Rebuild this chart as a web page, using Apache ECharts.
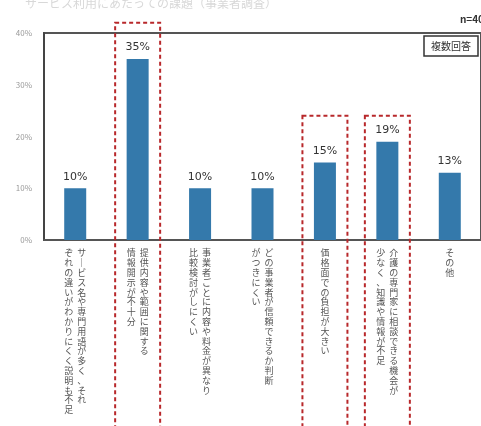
<!DOCTYPE html>
<html>
<head>
<meta charset="utf-8">
<script src="https://cdn.jsdelivr.net/npm/echarts@6/dist/echarts.min.js"></script>
<style>
  html, body { margin: 0; padding: 0; background: #fff; }
  #main { width: 481px; height: 426px; }
</style>
</head>
<body>
<div id="main"></div>
<script>
// 縦書きラベル：右の列 → 左の列
const labelRight = [
  'サービス名や専門用語が多く、それ',
  '提供内容や範囲に関する',
  '事業者ごとに内容や料金が異なり',
  'どの事業者が信頼できるか判断',
  '価格面での負担が大きい',
  '介護の専門家に相談できる機会が',
  'その他'
]
const labelLeft = [
  'ぞれの違いがわかりにくく説明も不足',
  '情報開示が不十分',
  '比較検討がしにくい',
  'がつきにくい',
  '',
  '少なく、知識や情報が不足',
  ''
]
const categories = labelRight.map((r, i) => r + labelLeft[i])
const values = [10, 35, 10, 10, 15, 19, 13]   // %
const yMin = 0, yMax = 40, yStep = 10
// 赤の点線枠（カテゴリ番号と枠の上端の値）
const highlightIndex = [1, 4, 5]
const highlightTop = [42, 24, 24]

const vertical = (i) => {
  let r = labelRight[i].replace(/ー/g, '｜')
  let l = labelLeft[i].replace(/ー/g, '｜')
  let n = Math.max(r.length, l.length)
  let lines = []
  for (let k = 0; k < n; k++) {
    if (l.length === 0) {
      lines.push(r[k] || '　')
    } else {
      lines.push((l[k] || '　') + '  ' + (r[k] || '　'))
    }
  }
  return lines.join('\n')
}

let chartDom = document.getElementById('main')
let myChart = echarts.init(chartDom, null, { renderer: 'canvas' })

let options = {
  animation: false,
  textStyle: { fontFamily: '"Noto Sans CJK JP", "Noto Sans", sans-serif' },
  title: [
    {
      text: 'サービス利用にあたっての課題（事業者調査）',
      left: 20,
      top: -8,
      textStyle: { fontSize: 12, color: '#d8d8d8', fontWeight: 'normal' }
    },
    {
      text: 'n=40',
      right: -8,
      top: 9,
      textStyle: { fontSize: 10, color: '#333', fontWeight: 'bold' }
    },
    {
      text: '複数回答',
      right: 3,
      top: 36,
      padding: [5, 7],
      borderColor: '#333',
      borderWidth: 1.5,
      backgroundColor: '#fff',
      textStyle: { fontSize: 10, color: '#333', fontWeight: 'normal' }
    }
  ],
  grid: {
    left: 44,
    right: -4,
    top: 33,
    bottom: 186,
    show: true,
    borderColor: '#555',
    borderWidth: 2
  },
  xAxis: {
    type: 'category',
    data: categories,
    axisLine: { show: true, lineStyle: { color: '#555', width: 2 } },
    axisTick: { show: false },
    axisLabel: {
      interval: 0,
      margin: 8,
      fontSize: 9,
      lineHeight: 9.8,
      color: '#555',
      verticalAlign: 'top',
      formatter: (value, index) => vertical(index)
    }
  },
  yAxis: {
    type: 'value',
    min: yMin,
    max: yMax,
    interval: yStep,
    axisLine: { show: true, lineStyle: { color: '#444', width: 2 } },
    axisTick: { show: false },
    splitLine: { show: false },
    axisLabel: { fontSize: 8, color: '#999', margin: 12, formatter: '{value}%' }
  },
  series: [
    {
      type: 'bar',
      data: values,
      barWidth: 22,
      itemStyle: { color: '#3479ab' },
      label: {
        show: true,
        position: 'top',
        distance: 6,
        formatter: '{c}%',
        fontSize: 11,
        color: '#333',
        fontFamily: '"DejaVu Sans", sans-serif'
      }
    }
  ]
}
myChart.setOption(options)

// 赤の点線枠は軸のスケールから位置を求める
let boxes = highlightIndex.map((ci, k) => {
  let cx = myChart.convertToPixel({ xAxisIndex: 0 }, categories[ci])
  let top = myChart.convertToPixel({ yAxisIndex: 0 }, highlightTop[k])
  return {
    type: 'rect',
    z: 100,
    shape: { x: cx - 22.5, y: top, width: 45, height: 440 - top },
    style: { fill: 'none', stroke: '#b8282b', lineWidth: 2, lineDash: [4, 3] }
  }
})
myChart.setOption({ graphic: boxes })
</script>
</body>
</html>
